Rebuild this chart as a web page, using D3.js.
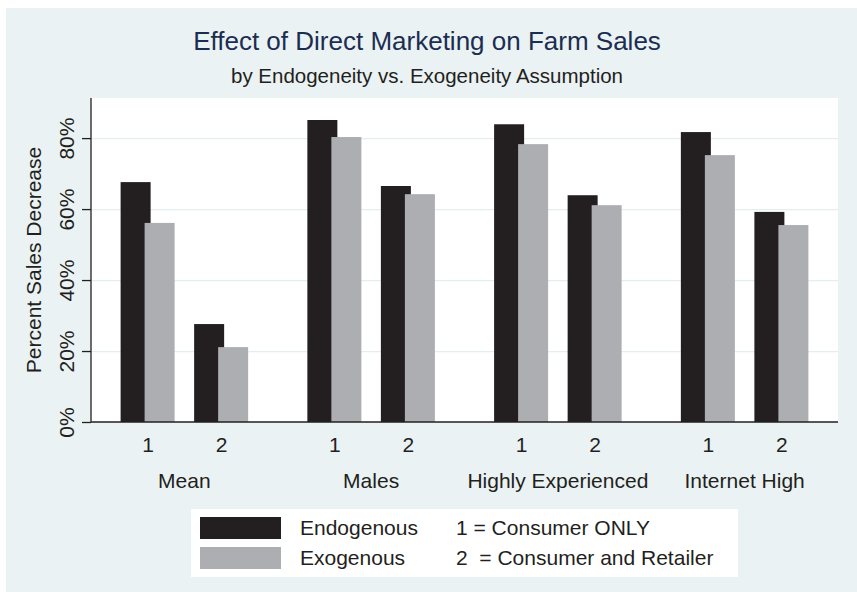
<!DOCTYPE html>
<html>
<head>
<meta charset="utf-8">
<script src="https://cdn.jsdelivr.net/npm/d3@7"></script>
<style>
  body { margin: 0; background: #fff; }
  text { font-family: "Liberation Sans", Arial, sans-serif; fill: #231f20; }
</style>
</head>
<body>
<script>
// Chart data
const groups = ["Mean", "Males", "Highly Experienced", "Internet High"];
const subGroups = ["1", "2"];
const seriesNames = ["Endogenous", "Exogenous"];
const endogenous = [67.6, 27.6, 85.1, 66.5, 83.9, 63.9, 81.7, 59.2];
const exogenous = [56.1, 21.1, 80.3, 64.2, 78.3, 61.1, 75.2, 55.5];
const yTicks = [0, 20, 40, 60, 80];
const legendNotes = ["1 = Consumer ONLY", "2  = Consumer and Retailer"];

// Size and plot region
const width = 857, height = 592;
const plot = {left: 91, right: 838, top: 98, bottom: 422};
const colors = {Endogenous: "#231f20", Exogenous: "#adaeb1"};

const svg = d3.select("body").append("svg")
    .attr("width", width)
    .attr("height", height);

// Outer background
svg.append("rect")
    .attr("x", 6).attr("y", 8)
    .attr("width", width - 6).attr("height", height - 8)
    .attr("fill", "#eaf2f3");

// Plot background
svg.append("rect")
    .attr("x", plot.left).attr("y", plot.top)
    .attr("width", plot.right - plot.left).attr("height", plot.bottom - plot.top)
    .attr("fill", "#ffffff");

// Scales
const xGroup = d3.scaleBand()
    .domain(groups)
    .range([plot.left, plot.right]);

const xSub = d3.scalePoint()
    .domain(subGroups)
    .range([0, xGroup.bandwidth()])
    .padding(0.77);

const xSeries = d3.scalePoint()
    .domain(seriesNames)
    .range([-12, 12]);

const barWidth = 30;

const y = d3.scaleLinear()
    .domain([0, 91.3])
    .range([plot.bottom, plot.top]);

// Grid lines
svg.append("g")
    .attr("transform", "translate(" + plot.left + ",0)")
    .call(d3.axisLeft(y).tickValues(yTicks.slice(1)).tickSize(-(plot.right - plot.left)).tickFormat(""))
    .call(g => g.select(".domain").remove())
    .call(g => g.selectAll("line").attr("stroke", "#e4eef0").attr("stroke-width", 1.2));

// Build rows from the arrays
const rows = [];
groups.forEach((g, gi) => {
    subGroups.forEach((s, si) => {
        const i = gi * subGroups.length + si;
        rows.push({group: g, sub: s, series: "Endogenous", value: endogenous[i]});
        rows.push({group: g, sub: s, series: "Exogenous", value: exogenous[i]});
    });
});

// Bars (exogenous drawn last so it overlaps)
svg.append("g")
    .selectAll("rect")
    .data(rows)
    .enter()
    .append("rect")
    .attr("x", d => xGroup(d.group) + xSub(d.sub) + xSeries(d.series) - barWidth / 2)
    .attr("y", d => y(d.value))
    .attr("width", barWidth)
    .attr("height", d => y(0) - y(d.value))
    .attr("fill", d => colors[d.series]);

// Y axis
const yAxis = svg.append("g")
    .attr("transform", "translate(" + plot.left + ",0)")
    .call(d3.axisLeft(y).tickValues(yTicks).tickSize(9).tickFormat(d => d + "%"));
yAxis.select(".domain")
    .attr("d", "M0," + plot.top + "V" + plot.bottom)
    .attr("stroke", "#231f20").attr("stroke-width", 1.3);
yAxis.selectAll(".tick line").attr("stroke", "#231f20").attr("stroke-width", 1.3);
yAxis.selectAll(".tick text")
    .attr("transform", "rotate(-90)")
    .attr("x", 0)
    .attr("y", -17)
    .attr("dy", 0)
    .attr("text-anchor", "middle")
    .style("font-size", "21px")
    .attr("fill", "#231f20");

// X axis baseline
svg.append("line")
    .attr("x1", plot.left).attr("x2", plot.right)
    .attr("y1", y(0)).attr("y2", y(0))
    .attr("stroke", "#231f20").attr("stroke-width", 1.5);

// Sub-group labels (1, 2) under each group
groups.forEach(g => {
    svg.append("g")
        .attr("transform", "translate(" + xGroup(g) + "," + y(0) + ")")
        .call(d3.axisBottom(xSub).tickSize(0))
        .call(s => s.select(".domain").remove())
        .selectAll("text")
        .attr("y", 30).attr("dy", 0)
        .style("font-size", "21px")
        .attr("fill", "#231f20");
});

// Group labels
svg.append("g")
    .attr("transform", "translate(0," + y(0) + ")")
    .call(d3.axisBottom(xGroup).tickSize(0))
    .call(s => s.select(".domain").remove())
    .selectAll("text")
    .attr("y", 66).attr("dy", 0)
    .style("font-size", "21px")
    .attr("fill", "#231f20");

// Y axis title
svg.append("text")
    .attr("transform", "translate(41," + ((plot.top + plot.bottom) / 2) + ") rotate(-90)")
    .attr("text-anchor", "middle")
    .style("font-size", "21px")
    .text("Percent Sales Decrease");

// Titles
svg.append("text")
    .attr("x", 427).attr("y", 50)
    .attr("text-anchor", "middle")
    .style("font-size", "26px")
    .style("fill", "#1c2d52")
    .text("Effect of Direct Marketing on Farm Sales");

svg.append("text")
    .attr("x", 427).attr("y", 83)
    .attr("text-anchor", "middle")
    .style("font-size", "20.5px")
    .text("by Endogeneity vs. Exogeneity Assumption");

// Legend
const legend = svg.append("g")
    .attr("transform", "translate(191,509)");

legend.append("rect")
    .attr("width", 547).attr("height", 68)
    .attr("fill", "#ffffff");

const legendItem = legend.selectAll("g.item")
    .data(seriesNames)
    .enter().append("g")
    .attr("class", "item")
    .attr("transform", (d, i) => "translate(0," + (i * 30) + ")");

legendItem.append("rect")
    .attr("x", 9).attr("y", 8)
    .attr("width", 81).attr("height", 22)
    .attr("fill", d => colors[d]);

legendItem.append("text")
    .attr("x", 109).attr("y", 26)
    .style("font-size", "21px")
    .text(d => d);

legendItem.append("text")
    .attr("x", 265).attr("y", 26)
    .style("font-size", "21px")
    .style("white-space", "pre")
    .text((d, i) => legendNotes[i]);
</script>
</body>
</html>
